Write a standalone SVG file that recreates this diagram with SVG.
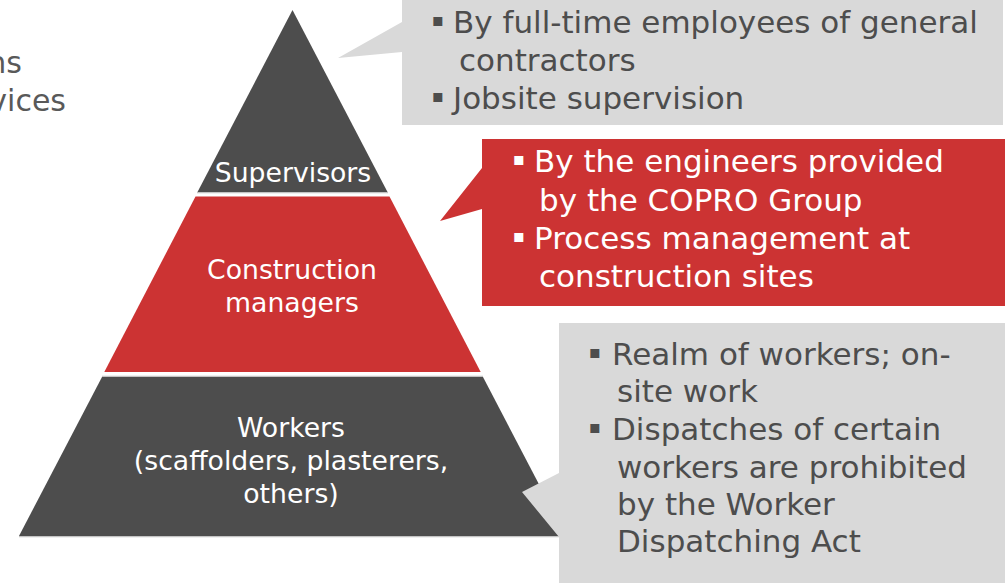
<svg xmlns="http://www.w3.org/2000/svg" width="1005" height="583" viewBox="0 0 1005 583">
  <style>
    .dark { fill: #4d4d4d; }
    .red { fill: #cc3333; }
    .note { fill: #d9d9d9; }
    .sep { stroke: #c4c4c4; stroke-width: 1.2; }
    .lbl { font-family: "DejaVu Sans", Verdana, sans-serif; font-size: 26.7px; fill: #ffffff; text-anchor: middle; }
    .txt { font-family: "DejaVu Sans", Verdana, sans-serif; font-size: 31px; }
    .bul { font-family: "DejaVu Sans", Verdana, sans-serif; font-size: 18px; }
    .grey { fill: #4d4d4d; }
    .white { fill: #ffffff; }
    .side { font-family: "DejaVu Sans", Verdana, sans-serif; font-size: 30px; fill: #595959; text-anchor: end; }
  </style>

  <!-- partially visible text at the left edge -->
  <g id="side-text">
    <text class="side" x="22" y="73">ns</text>
    <text class="side" x="66" y="111">vices</text>
  </g>

  <!-- pyramid tiers -->
  <g id="tier-supervisors">
    <polygon class="dark" points="292.5,10 387.5,192 197.5,192"/>
    <line class="sep" x1="197" y1="192.6" x2="388" y2="192.6"/>
    <text class="lbl" x="293" y="182">Supervisors</text>
  </g>

  <g id="tier-managers">
    <polygon class="red" points="195.5,196.5 389.5,196.5 480.7,372 104.3,372"/>
    <text class="lbl" x="292" y="279">Construction</text>
    <text class="lbl" x="292" y="312">managers</text>
  </g>

  <g id="tier-workers">
    <polygon class="dark" points="102,377 483,377 566,536 19,536"/>
    <line class="sep" x1="102" y1="376.4" x2="483" y2="376.4"/>
    <line class="sep" x1="19" y1="536.6" x2="566" y2="536.6"/>
    <text class="lbl" x="291" y="437">Workers</text>
    <text class="lbl" x="291" y="470">(scaffolders, plasterers,</text>
    <text class="lbl" x="291" y="503">others)</text>
  </g>

  <!-- callouts -->
  <g id="note-supervisors">
    <path class="note" d="M402,0 H1003 V125 H402 V52 L338,58 L402,22 Z"/>
    <text class="bul grey" x="431.5" y="26">▪</text>
    <text class="txt grey" x="453" y="33">By full-time employees of general</text>
    <text class="txt grey" x="459" y="71">contractors</text>
    <text class="bul grey" x="431.5" y="102">▪</text>
    <text class="txt grey" x="453" y="109">Jobsite supervision</text>
  </g>

  <g id="note-managers">
    <path class="red" d="M482,139 H1005 V306 H482 V209 L440,221 L482,168 Z"/>
    <text class="bul white" x="512.5" y="165">▪</text>
    <text class="txt white" x="534" y="172">By the engineers provided</text>
    <text class="txt white" x="539" y="211">by the COPRO Group</text>
    <text class="bul white" x="512.5" y="242">▪</text>
    <text class="txt white" x="534" y="249">Process management at</text>
    <text class="txt white" x="539" y="287">construction sites</text>
  </g>

  <g id="note-workers">
    <path class="note" d="M559,323 H1005 V583 H559 V537 L522,492 L559,473 Z"/>
    <text class="bul grey" x="588.5" y="358">▪</text>
    <text class="txt grey" x="612" y="365">Realm of workers; on-</text>
    <text class="txt grey" x="617" y="402">site work</text>
    <text class="bul grey" x="588.5" y="433">▪</text>
    <text class="txt grey" x="612" y="440">Dispatches of certain</text>
    <text class="txt grey" x="617" y="478">workers are prohibited</text>
    <text class="txt grey" x="617" y="515">by the Worker</text>
    <text class="txt grey" x="617" y="552">Dispatching Act</text>
  </g>
</svg>
